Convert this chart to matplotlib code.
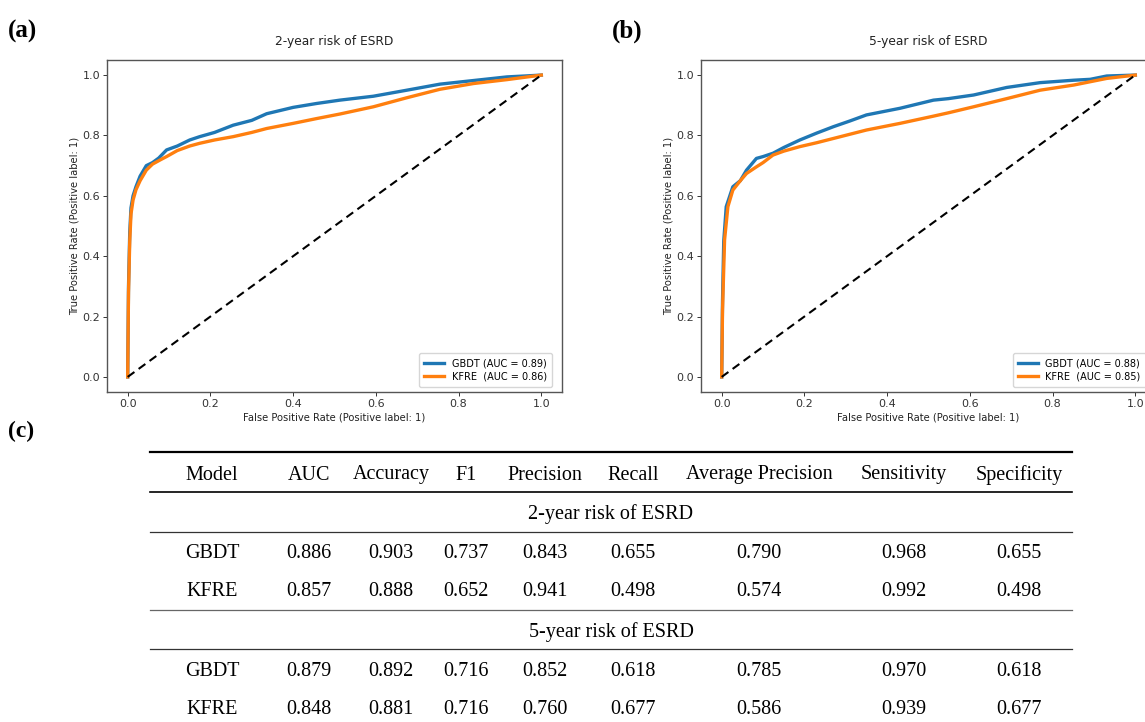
import matplotlib
matplotlib.use("Agg")
import matplotlib.pyplot as plt
from matplotlib.lines import Line2D

W, H = 1145, 722

# ---------------- data ----------------
fpr_gbdt_2y = [0, 0.002, 0.005, 0.008, 0.013, 0.02, 0.03, 0.045, 0.06, 0.075, 0.094, 0.12, 0.15,
               0.174, 0.21, 0.255, 0.3, 0.336, 0.4, 0.457, 0.513, 0.594, 0.675, 0.755, 0.836,
               0.917, 0.96, 1.0]
tpr_gbdt_2y = [0, 0.30, 0.48, 0.56, 0.60, 0.63, 0.665, 0.70, 0.71, 0.725, 0.752, 0.765, 0.785,
               0.796, 0.81, 0.834, 0.85, 0.872, 0.893, 0.906, 0.917, 0.930, 0.950, 0.970, 0.982,
               0.994, 0.997, 1.0]
fpr_kfre_2y = [0, 0.002, 0.005, 0.008, 0.013, 0.02, 0.03, 0.045, 0.06, 0.08, 0.094, 0.12, 0.15,
               0.174, 0.21, 0.255, 0.3, 0.336, 0.4, 0.457, 0.513, 0.594, 0.675, 0.755, 0.836,
               0.917, 1.0]
tpr_kfre_2y = [0, 0.28, 0.45, 0.54, 0.586, 0.62, 0.65, 0.685, 0.705, 0.72, 0.73, 0.75, 0.765,
               0.774, 0.785, 0.796, 0.81, 0.823, 0.84, 0.856, 0.871, 0.895, 0.925, 0.953, 0.972,
               0.985, 1.0]

fpr_gbdt_5y = [0, 0.002, 0.005, 0.011, 0.027, 0.045, 0.060, 0.084, 0.10, 0.124, 0.15, 0.189,
               0.23, 0.27, 0.31, 0.35, 0.431, 0.512, 0.548, 0.609, 0.689, 0.770, 0.851, 0.891,
               0.931, 1.0]
tpr_gbdt_5y = [0, 0.25, 0.45, 0.564, 0.630, 0.650, 0.685, 0.724, 0.730, 0.741, 0.760, 0.785,
               0.808, 0.829, 0.848, 0.868, 0.890, 0.917, 0.922, 0.934, 0.959, 0.975, 0.983, 0.986,
               0.997, 1.0]
fpr_kfre_5y = [0, 0.002, 0.007, 0.015, 0.027, 0.045, 0.060, 0.084, 0.10, 0.124, 0.15, 0.189,
               0.23, 0.27, 0.31, 0.35, 0.431, 0.512, 0.548, 0.609, 0.689, 0.770, 0.851, 0.931, 1.0]
tpr_kfre_5y = [0, 0.22, 0.454, 0.564, 0.619, 0.650, 0.674, 0.696, 0.710, 0.735, 0.748, 0.763,
               0.776, 0.790, 0.804, 0.818, 0.840, 0.864, 0.875, 0.895, 0.922, 0.950, 0.967, 0.989, 1.0]

auc_labels_2y = ["GBDT (AUC = 0.89)", "KFRE  (AUC = 0.86)"]
auc_labels_5y = ["GBDT (AUC = 0.88)", "KFRE  (AUC = 0.85)"]
titles = ["2-year risk of ESRD", "5-year risk of ESRD"]
ticks = [0.0, 0.2, 0.4, 0.6, 0.8, 1.0]

columns = ["Model", "AUC", "Accuracy", "F1", "Precision", "Recall",
           "Average Precision", "Sensitivity", "Specificity"]
sections = ["2-year risk of ESRD", "5-year risk of ESRD"]
models = ["GBDT", "KFRE"]
gbdt_2y = ["0.886", "0.903", "0.737", "0.843", "0.655", "0.790", "0.968", "0.655"]
kfre_2y = ["0.857", "0.888", "0.652", "0.941", "0.498", "0.574", "0.992", "0.498"]
gbdt_5y = ["0.879", "0.892", "0.716", "0.852", "0.618", "0.785", "0.970", "0.618"]
kfre_5y = ["0.848", "0.881", "0.716", "0.760", "0.677", "0.586", "0.939", "0.677"]

BLUE = "#1f77b4"
ORANGE = "#ff7f0e"

fig = plt.figure(figsize=(W / 100, H / 100), dpi=100)


def fx(px):
    return px / W


def fy(py):
    return 1 - py / H


def roc_panel(left, fpr_a, tpr_a, fpr_b, tpr_b, labels, title):
    ax_w, top, bottom = 455, 60, 392
    ax = fig.add_axes([fx(left), fy(bottom), ax_w / W, (bottom - top) / H])
    ax.plot(fpr_a, tpr_a, color=BLUE, lw=2.4, label=labels[0], solid_joinstyle="round")
    ax.plot(fpr_b, tpr_b, color=ORANGE, lw=2.4, label=labels[1], solid_joinstyle="round")
    ax.plot([0, 1], [0, 1], color="black", ls="--", lw=1.5, dashes=(4, 2.5))
    ax.set_xlim(-0.05, 1.05)
    ax.set_ylim(-0.05, 1.05)
    ax.set_xticks(ticks)
    ax.set_yticks(ticks)
    ax.tick_params(labelsize=8, length=3, width=0.7, colors="#333333", pad=2)
    for s in ax.spines.values():
        s.set_color("#555555")
        s.set_linewidth(1.0)
    ax.legend(loc="lower right", bbox_to_anchor=(1 - 10 / ax_w, 5 / (bottom - top)),
              borderaxespad=0, fontsize=7, frameon=True, handlelength=2.0,
              borderpad=0.55, labelspacing=0.35)
    cx = left + ax_w / 2
    fig.text(fx(cx), fy(42), title, ha="center", va="center", fontsize=8.8, color="#222222")
    fig.text(fx(cx), fy(417), "False Positive Rate (Positive label: 1)", ha="center",
             va="center", fontsize=7.2, color="#222222")
    fig.text(fx(left - 32), fy(226), "True Positive Rate (Positive label: 1)", ha="center",
             va="center", rotation=90, fontsize=7.2, color="#222222")
    return ax


roc_panel(107, fpr_gbdt_2y, tpr_gbdt_2y, fpr_kfre_2y, tpr_kfre_2y, auc_labels_2y, titles[0])
roc_panel(701, fpr_gbdt_5y, tpr_gbdt_5y, fpr_kfre_5y, tpr_kfre_5y, auc_labels_5y, titles[1])

SERIF = ["Liberation Serif", "DejaVu Serif"]
fig.text(fx(8), fy(31), "(a)", ha="left", va="center", fontsize=18, fontweight="bold",
         family=SERIF)
fig.text(fx(612), fy(31), "(b)", ha="left", va="center", fontsize=18, fontweight="bold",
         family=SERIF)
fig.text(fx(8), fy(431), "(c)", ha="left", va="center", fontsize=17, fontweight="bold",
         family=SERIF)

# ---------------- table ----------------
col_x = [212, 309, 391, 466, 545, 633, 759, 904, 1019]
tx0, tx1 = 150, 1072


def hline(py, lw, color="black"):
    fig.add_artist(Line2D([fx(tx0), fx(tx1)], [fy(py), fy(py)], lw=lw, color=color))


hline(452, 1.6)
hline(492, 1.2)
hline(532, 0.9, "#333333")
hline(610, 0.9, "#666666")
hline(649, 0.9, "#333333")

FS = 14.5
for x, c in zip(col_x, columns):
    fig.text(fx(x), fy(475), c, ha="center", va="center", fontsize=FS, family=SERIF)

section_rows = [(514, sections[0], [(553, models[0], gbdt_2y), (592, models[1], kfre_2y)]),
                (632, sections[1], [(671, models[0], gbdt_5y), (709, models[1], kfre_5y)])]
for sy, sname, rows in section_rows:
    fig.text(fx(611), fy(sy), sname, ha="center", va="center", fontsize=FS, family=SERIF)
    for ry, mname, vals in rows:
        fig.text(fx(col_x[0]), fy(ry), mname, ha="center", va="center", fontsize=FS, family=SERIF)
        for x, v in zip(col_x[1:], vals):
            fig.text(fx(x), fy(ry), v, ha="center", va="center", fontsize=FS, family=SERIF)

fig.savefig("out.png", dpi=100)
